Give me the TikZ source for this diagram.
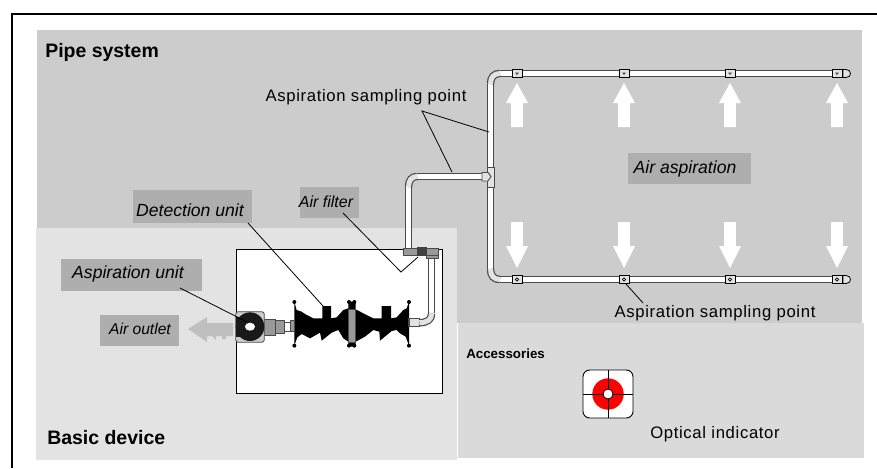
\documentclass[tikz,border=0pt]{standalone}
\usepackage{fontspec}
\setmainfont{Liberation Sans}
\definecolor{pipegray}{HTML}{CCCCCC}
\definecolor{basicgray}{HTML}{E3E3E3}
\definecolor{accgray}{HTML}{DADADA}
\definecolor{labelgray}{HTML}{AEAEAE}
\definecolor{partgray}{HTML}{999999}
\definecolor{pipeedge}{HTML}{4A4A4A}
\tikzset{
 x=0.75pt,y=-0.75pt,
 region/.style={font=\fontsize{14.6}{16}\selectfont\bfseries,anchor=west,inner sep=0pt},
 tag/.style={font=\fontsize{13.2}{15}\selectfont\itshape,inner sep=0pt,anchor=center},
 tagbox/.style={fill=labelgray,draw=none},
 plain/.style={font=\fontsize{12.5}{15}\selectfont\addfontfeature{LetterSpace=4},inner sep=0pt},
 leader/.style={draw=black,line width=0.6pt},
}
\newcommand{\pipepath}[1]{\draw[pipeedge,line width=5.6pt] #1; \draw[white,line width=3.8pt] #1;}
\newcommand{\elbowpath}[1]{\draw[pipeedge,line width=5.6pt] #1; \draw[basicgray,line width=3.8pt] #1;}
\newcommand{\upflow}[2]{\fill[white] (#1-5.8,#2) -- (#1-5.8,#2-24) -- (#1-11,#2-24) -- (#1,#2-44) -- (#1+11,#2-24) -- (#1+5.8,#2-24) -- (#1+5.8,#2) -- cycle;}
\newcommand{\downflow}[2]{\fill[white] (#1-5.8,#2) -- (#1-5.8,#2+24) -- (#1-11,#2+24) -- (#1,#2+46) -- (#1+11,#2+24) -- (#1+5.8,#2+24) -- (#1+5.8,#2) -- cycle;}
\newcommand{\samplertop}[2]{\draw[black,line width=0.6pt,fill=basicgray] (#1-5,#2-4) rectangle (#1+5,#2+4); \fill[pipeedge] (#1-2,#2-1) -- (#1+2,#2-1) -- (#1,#2+1.5) -- cycle;}
\newcommand{\samplerbot}[2]{\draw[black,line width=0.6pt,fill=basicgray] (#1-5,#2-4) rectangle (#1+5,#2+4); \draw[black,line width=0.5pt,fill=white] (#1,#2) circle (1.7);}
\begin{document}
\begin{tikzpicture}
\useasboundingbox (0,0) rectangle (877,468);
\fill[white] (0,0) rectangle (877,468);
% frame
\draw[black,line width=1.5pt] (12,468) -- (12,14) -- (877,14);
% regions
\fill[pipegray] (37,30) rectangle (862,323);
\fill[basicgray] (36,228) rectangle (457,460);
\fill[accgray] (458,323) rectangle (864,458);
\node[region] (pipesys) at (45,52) {Pipe system};
\node[region] (basic) at (47,438) {Basic device};
\node[region] (acc) at (466,354) {\fontsize{10}{12}\selectfont Accessories};
% device box
\draw[black,line width=0.7pt,fill=white] (236,249.5) rectangle (442,393);
% main pipes
\pipepath{(500,73.5) -- (845,73.5)}
\pipepath{(490.5,84) -- (490.5,269)}
\pipepath{(500,279.5) -- (845,279.5)}
\elbowpath{(500,73.5) .. controls (494,73.5) and (490.5,77) .. (490.5,84)}
\elbowpath{(490.5,269) .. controls (490.5,276) and (494,279.5) .. (500,279.5)}
\pipepath{(417,176.5) -- (482,176.5)}
\pipepath{(408.5,187) -- (408.5,248)}
\elbowpath{(417,176.5) .. controls (412,176.5) and (408.5,180) .. (408.5,187)}
\pipepath{(431.6,257) -- (431.6,313)}
% junction
\draw[pipeedge,line width=0.7pt,fill=basicgray] (487,167) rectangle (494,187);
\draw[pipeedge,line width=0.7pt,fill=basicgray] (482,172.5) -- (488,172.5) -- (491,176.5) -- (488,181) -- (482,181) -- cycle;
% samplers
\foreach \px in {517,624,730,837} {\samplertop{\px}{73.5}\samplerbot{\px}{279.5}}
\draw[black,line width=0.6pt,fill=basicgray] (843,69.5) -- (846,69.5) .. controls (852,69.5) and (852,77.5) .. (846,77.5) -- (843,77.5) -- cycle;
\draw[black,line width=0.6pt,fill=basicgray] (843,275.5) -- (846,275.5) .. controls (852,275.5) and (852,283.5) .. (846,283.5) -- (843,283.5) -- cycle;
% flow arrows
\foreach \px in {517,624,730,837} {\upflow{\px}{127}\downflow{\px}{222}}
% filter
\fill[partgray,draw=pipeedge,line width=0.5pt] (403,248) rectangle (438,255);
\fill[partgray,draw=pipeedge,line width=0.5pt] (426,255) rectangle (438,258);
\fill[black!75] (417,247) rectangle (427,256);
% detection unit
\begin{scope}[shift={(200,230)},x=0.25pt,y=-0.25pt]
\fill[black] (283,215) -- (290,240) -- (305,245) -- (315,252) -- (340,265) -- (367,265) -- (367,228) -- (393,228) -- (393,265) -- (410,262) -- (430,240) -- (445,235) -- (445,215) -- (467,215) -- (467,238) -- (490,250) -- (520,265) -- (545,265) -- (545,228) -- (573,228) -- (573,265) -- (590,262) -- (610,240) -- (620,235) -- (627,215) -- (627,347) -- (617,320) -- (600,310) -- (590,300) -- (575,303) -- (540,332) -- (538,305) -- (520,300) -- (495,320) -- (467,335) -- (467,350) -- (445,350) -- (445,335) -- (430,325) -- (415,300) -- (395,308) -- (365,332) -- (360,308) -- (330,325) -- (305,312) -- (292,322) -- (283,347) -- cycle;
\foreach \p/\q in {283/216,283/347,627/216,627/347,447/216,463/216,447/347,463/347} \fill[black] (\p,\q) circle (6);
\fill[partgray,draw=pipeedge,line width=0.5pt] (445,238) rectangle (467,336);
% connecting parts
\fill[basicgray,draw=pipeedge,line width=0.8pt] (627,266) rectangle (658,290);
\draw[pipeedge,line width=5.6pt] (658,278) .. controls (680,278) and (695,270) .. (695,250);
\draw[basicgray,line width=3.8pt] (658,278) .. controls (680,278) and (695,270) .. (695,250);
\draw[pipeedge,line width=0.5pt,fill=white] (252,277) rectangle (272,303);
\fill[partgray,draw=pipeedge,line width=0.5pt] (272,272) rectangle (283,305);
\fill[partgray,draw=pipeedge,line width=0.5pt] (225,272) rectangle (252,310);
\fill[partgray,draw=pipeedge,line width=0.5pt] (190,267) rectangle (225,315);
% aspiration unit
\draw[pipeedge,line width=0.6pt,fill=pipegray,rounded corners=2pt] (107,245) rectangle (193,337);
\fill[black!90] (107,262) rectangle (150,320);
\fill[black!90] (150,290) circle (43);
\fill[white] (150,290) ellipse (15 and 12);
\end{scope}
% outlet arrow
\fill[black!25] (188,329) -- (207,317) -- (207,323) -- (233,323) -- (233,336) -- (226,336) -- (226,339) -- (222,339) -- (222,336) -- (216,336) -- (216,340) -- (212,336) -- (207,336) -- (207,342) -- cycle;
% optical indicator
\draw[black,line width=0.7pt,fill=white,rounded corners=5pt] (583,370) rectangle (633,418);
\fill[red] (608,394) circle (15.7);
\draw[black,line width=0.6pt] (583,394) -- (633,394) (608,370) -- (608,418);
\fill[white,draw=black,line width=0.6pt] (608,394) circle (5);
% tags
\fill[tagbox] (61,259) rectangle (202,291);
\fill[tagbox] (100,315) rectangle (179,346);
\fill[tagbox] (133,190) rectangle (252,223);
\fill[tagbox] (300,187) rectangle (359,218);
\fill[tagbox] (628,153) rectangle (751,184);
\node[tag] (asp) at (128,274) {Aspiration unit};
\node[tag,font=\fontsize{11.7}{14}\selectfont\itshape] (outlet) at (140,329) {Air outlet};
\node[tag] (det) at (190,210) {Detection unit};
\node[tag,font=\fontsize{12}{14}\selectfont\itshape] (filter) at (326,202) {Air filter};
\node[tag] (aspair) at (685,169) {Air aspiration};
% plain labels
\node[plain] (sp1) at (366,97) {Aspiration sampling point};
\node[plain] (sp2) at (715,313) {Aspiration sampling point};
\node[plain] (opt) at (715,434) {Optical indicator};
% leaders
\coordinate (fork) at (422,111);
\coordinate (a1) at (489,132);
\coordinate (a2) at (452,172);
\draw[leader] (a1) -- (fork) -- (a2);
\coordinate (b1) at (626,284);
\coordinate (b2) at (643,303);
\draw[leader] (b1) -- (b2);
\coordinate (c1) at (180,288);
\coordinate (c2) at (247,322);
\draw[leader] (c1) -- (c2);
\coordinate (d1) at (248,223);
\coordinate (d2) at (323,306);
\draw[leader] (d1) -- (d2);
\coordinate (e1) at (343,213);
\coordinate (e2) at (401,272);
\coordinate (e3) at (418,257);
\draw[leader] (e1) -- (e2) -- (e3);
\end{tikzpicture}
\end{document}
